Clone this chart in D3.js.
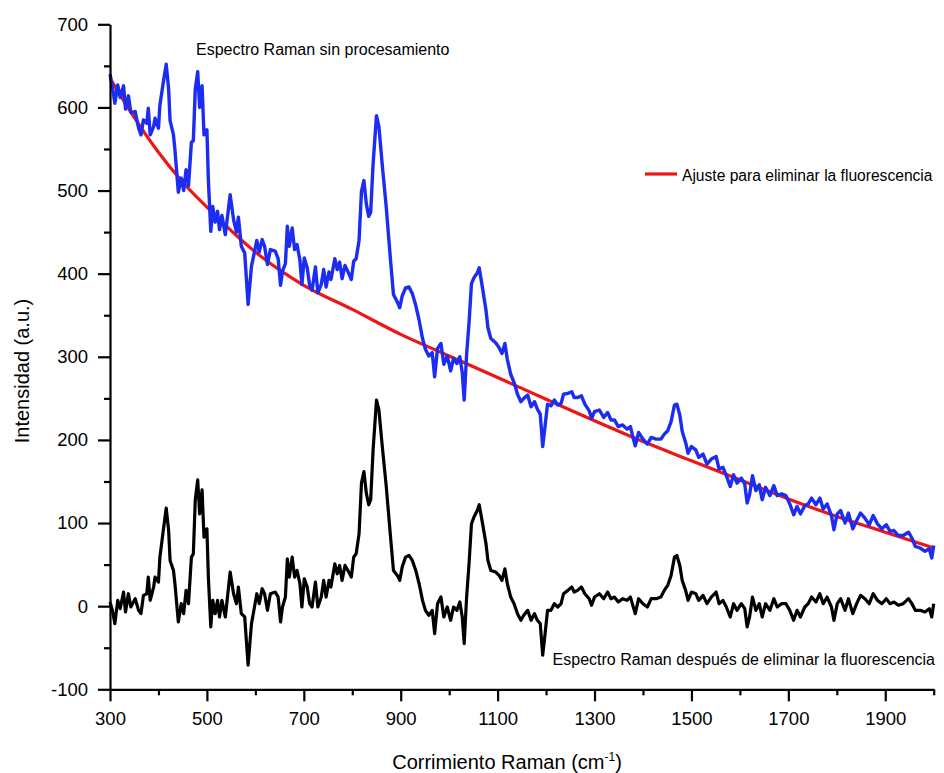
<!DOCTYPE html>
<html>
<head>
<meta charset="utf-8">
<script src="https://cdn.jsdelivr.net/npm/d3@7"></script>
<style>
  html, body { margin: 0; padding: 0; background: #fff; }
  svg text { font-family: "Liberation Sans", Arial, sans-serif; fill: #000; }
</style>
</head>
<body>
<svg id="chart" width="944" height="773"></svg>
<script>
// Raman shift (cm-1) sampling points shared by the raw and corrected spectra
const waveNumbers = [
  300,305,310,316,321,328,332,338,343,352,359,364,369,376,379,383,390,393,400,403,
  410,416,421,424,431,434,441,447,452,457,462,468,472,476,481,485,490,494,500,503,
  508,512,517,522,526,531,538,548,555,561,565,571,578,585,592,597,603,608,614,619,
  625,631,641,647,652,656,662,666,670,676,681,686,692,696,701,707,712,717,724,729,
  736,741,746,752,756,764,769,774,779,785,793,798,803,808,814,819,824,829,834,838,
  843,850,855,862,870,879,885,893,898,903,910,917,924,931,938,945,951,958,965,970,
  976,983,989,996,1003,1009,1016,1022,1027,1031,1036,1041,1046,1051,1058,1062,1069,1076,1080,1086,
  1096,1103,1109,1115,1120,1127,1134,1141,1148,1154,1162,1169,1176,1182,1188,1193,1198,1203,1210,1217,
  1224,1231,1236,1245,1253,1258,1265,1273,1280,1289,1294,1300,1310,1319,1327,1334,1341,1349,1358,1367,
  1374,1379,1384,1391,1400,1409,1417,1427,1437,1444,1451,1458,1465,1470,1476,1481,1488,1493,1500,1509,
  1515,1524,1532,1541,1551,1557,1565,1572,1580,1587,1594,1603,1610,1615,1620,1626,1633,1640,1646,1653,
  1662,1670,1677,1686,1695,1703,1711,1718,1725,1734,1741,1748,1757,1765,1772,1780,1789,1794,1801,1808,
  1817,1824,1833,1841,1849,1858,1867,1875,1884,1893,1902,1910,1918,1927,1937,1948,1955,1962,1972,1982,
  1991,1996,2000
];

// Unprocessed Raman spectrum (a.u.)
const rawIntensity = [
  640,625,605,627,612,626,598,614,594,595,575,567,585,581,599,567,577,587,575,603,
  630,652,622,584,567,549,498,515,500,525,506,558,560,622,643,600,626,567,573,513,
  451,481,462,475,453,470,447,495,465,450,468,433,425,363,409,423,440,426,441,433,
  411,429,427,418,386,403,412,457,433,455,429,435,416,387,419,407,386,380,408,377,
  387,405,384,402,393,418,405,414,394,410,400,393,415,418,440,499,512,484,469,474,
  532,590,577,530,481,416,375,366,359,373,383,384,376,362,344,322,309,301,305,276,
  310,316,291,301,283,298,292,300,281,248,303,341,388,395,401,407,382,356,335,322,
  317,311,304,316,297,279,269,255,246,250,254,240,246,237,231,192,217,243,241,248,
  242,244,255,256,258,251,251,253,243,235,226,234,236,227,233,224,224,216,218,213,
  216,204,193,209,201,195,203,201,201,207,211,222,242,243,230,210,197,184,192,188,
  179,183,171,177,180,165,167,157,144,158,148,154,147,124,134,157,139,146,128,143,
  133,145,133,135,133,123,110,120,111,121,123,130,122,130,117,123,109,92,111,115,
  100,112,93,103,112,106,98,109,99,93,98,90,91,85,85,89,82,72,70,66,
  69,58,73
];

// Spectrum after removing the fluorescence background (a.u.)
const correctedIntensity = [
  5,-5,-21,7,-3,17,-7,15,-1,9,-5,-9,13,15,35,7,23,35,29,59,
  91,118,91,55,43,27,-19,3,-9,19,3,59,63,128,152,111,140,83,93,35,
  -25,7,-9,7,-13,7,-13,41,15,3,23,-9,-13,-71,-21,-5,15,3,21,15,
  -5,15,17,11,-19,-1,11,57,35,59,35,43,27,-1,33,23,3,-1,29,-1,
  11,31,11,31,23,51,39,49,31,49,41,35,59,63,87,148,162,136,122,128,
  188,248,236,192,145,83,43,37,31,47,59,61,55,43,27,7,-5,-11,-5,-33,
  3,11,-13,-1,-17,-1,-5,5,-13,-45,11,51,99,107,115,122,99,75,55,43,
  41,37,31,45,27,11,3,-9,-17,-11,-5,-17,-9,-17,-21,-59,-33,-5,-5,3,
  -1,3,15,19,23,17,19,23,15,9,1,11,15,9,17,9,11,5,9,7,
  11,1,-9,9,3,-1,9,9,11,19,25,37,59,61,49,31,19,7,17,15,
  7,13,3,11,17,3,7,-1,-13,3,-5,3,-3,-25,-13,11,-5,3,-13,3,
  -5,9,-1,3,3,-5,-17,-5,-13,-1,3,11,5,15,3,11,-1,-17,3,9,
  -5,9,-9,3,13,9,3,15,7,3,9,3,5,1,3,9,3,-5,-5,-7,
  -3,-13,3
];

// Fitted fluorescence background
const fitWaveNumbers = [300,350,400,450,500,600,700,800,900,1000,1100,1200,1300,1400,1500,1600,1700,1800,1900,2000];
const fitIntensity   = [635,588,546,510,480,426,386,357,327,301,275,249,223,198,175,152,129,108,89,70];

// Axis ticks
const xMajorTicks = [300,500,700,900,1100,1300,1500,1700,1900];
const xMinorTicks = [400,600,800,1000,1200,1400,1600,1800,2000];
const yMajorTicks = [-100,0,100,200,300,400,500,600,700];
const yMinorTicks = [-50,50,150,250,350,450,550,650];

// Text
const xTitle = "Corrimiento Raman (cm";
const xTitleSup = "-1";
const yTitle = "Intensidad (a.u.)";
const rawLabel = "Espectro Raman sin procesamiento";
const fitLabel = "Ajuste para eliminar la fluorescencia";
const correctedLabel = "Espectro Raman después de eliminar la fluorescencia";

const svg = d3.select("#chart");

const x = d3.scaleLinear().domain([300, 2000]).range([110, 933.7]);
const y = d3.scaleLinear().domain([-100, 700]).range([689.3, 24.3]);

const toPoints = (xs, ys) => xs.map((v, i) => [v, ys[i]]);
const plainNumber = d => String(d);

const line = d3.line()
  .x(d => x(d[0]))
  .y(d => y(d[1]));

const smoothLine = d3.line()
  .curve(d3.curveMonotoneX)
  .x(d => x(d[0]))
  .y(d => y(d[1]));

const plot = svg.append("g");

// Background fit (red)
plot.append("path")
  .datum(toPoints(fitWaveNumbers, fitIntensity))
  .attr("fill", "none")
  .attr("stroke", "#ee1515")
  .attr("stroke-width", 3.2)
  .attr("d", smoothLine);

// Raw spectrum (blue)
plot.append("path")
  .datum(toPoints(waveNumbers, rawIntensity))
  .attr("fill", "none")
  .attr("stroke", "#1c2cf0")
  .attr("stroke-width", 3.4)
  .attr("stroke-linejoin", "round")
  .attr("d", line);

// Corrected spectrum (black)
plot.append("path")
  .datum(toPoints(waveNumbers, correctedIntensity))
  .attr("fill", "none")
  .attr("stroke", "#000")
  .attr("stroke-width", 3.2)
  .attr("stroke-linejoin", "round")
  .attr("d", line);

// X axis
const xAxisMinor = svg.append("g").attr("transform", `translate(0,${y(-100)})`)
  .call(d3.axisBottom(x).tickValues(xMinorTicks).tickSize(6).tickFormat(""));
xAxisMinor.select(".domain").remove();
const xAxisMajor = svg.append("g").attr("transform", `translate(0,${y(-100)})`)
  .call(d3.axisBottom(x).tickValues(xMajorTicks).tickSize(12).tickSizeOuter(0).tickPadding(11).tickFormat(plainNumber));
xAxisMajor.select(".domain").attr("stroke-width", 2.2);
xAxisMajor.selectAll("text").attr("font-size", 18.5).attr("font-family", "Liberation Sans, Arial, sans-serif");

// Y axis
const yAxisMinor = svg.append("g").attr("transform", `translate(${x(300)},0)`)
  .call(d3.axisLeft(y).tickValues(yMinorTicks).tickSize(6).tickFormat(""));
yAxisMinor.select(".domain").remove();
const yAxisMajor = svg.append("g").attr("transform", `translate(${x(300)},0)`)
  .call(d3.axisLeft(y).tickValues(yMajorTicks).tickSize(12).tickSizeOuter(0).tickPadding(10).tickFormat(plainNumber));
yAxisMajor.select(".domain").attr("stroke-width", 2.2);
yAxisMajor.selectAll("text").attr("font-size", 18.5).attr("font-family", "Liberation Sans, Arial, sans-serif");

svg.selectAll(".tick line").attr("stroke-width", 2.2);
svg.selectAll(".tick text").attr("fill", "#000");

// Axis titles
const xt = svg.append("text")
  .attr("x", 507).attr("y", 769)
  .attr("text-anchor", "middle")
  .attr("font-size", 20);
xt.append("tspan").text(xTitle);
xt.append("tspan").attr("font-size", 12).attr("dy", -8).text(xTitleSup);
xt.append("tspan").attr("dy", 8).text(")");

svg.append("text")
  .attr("transform", "translate(29,371) rotate(-90)")
  .attr("text-anchor", "middle")
  .attr("font-size", 20)
  .text(yTitle);

// Annotations
svg.append("text")
  .attr("x", 196).attr("y", 55)
  .attr("font-size", 16)
  .text(rawLabel);

svg.append("text")
  .attr("x", 935).attr("y", 665)
  .attr("text-anchor", "end")
  .attr("font-size", 16)
  .text(correctedLabel);

// Legend for the fit
svg.append("line")
  .attr("x1", 645).attr("x2", 677)
  .attr("y1", 174).attr("y2", 174)
  .attr("stroke", "#ee1515")
  .attr("stroke-width", 3.2);
svg.append("text")
  .attr("x", 682).attr("y", 181)
  .attr("font-size", 15.6)
  .text(fitLabel);
</script>
</body>
</html>
